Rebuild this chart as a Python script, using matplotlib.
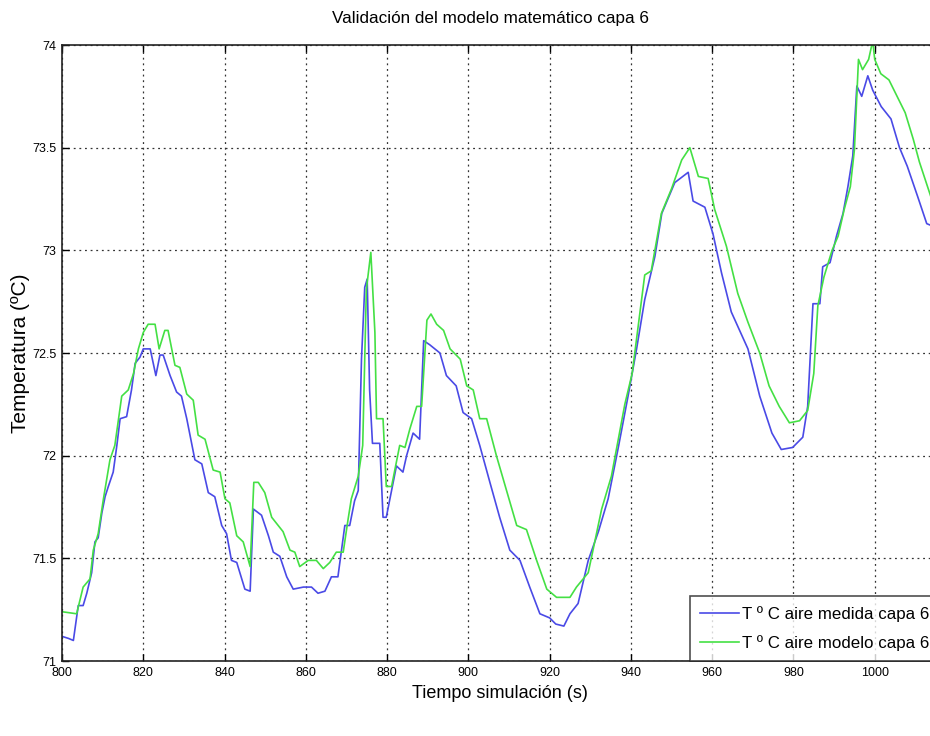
import matplotlib
matplotlib.use("Agg")
import matplotlib.pyplot as plt
from matplotlib import font_manager

# ---------------- data ----------------
t_medida = [800, 801.6, 802.8, 804.0, 805.2, 806.1, 807.3, 808.1, 808.9, 809.8, 810.6, 811.4,
            812.6, 813.5, 814.3, 815.9, 817.1, 818.0, 819.2, 820.0, 821.7, 823.1, 824.1, 824.9,
            826.6, 828.2, 829.4, 830.7, 832.7, 834.4, 836.0, 837.6, 839.3, 840.5, 841.7, 843.0,
            845.0, 846.3, 847.1, 849.1, 850.8, 852.0, 853.6, 855.3, 856.9, 859.4, 861.4, 863.0,
            864.7, 866.3, 867.9, 869.6, 870.8, 872.0, 872.9, 873.7, 874.5, 875.1, 875.7, 876.4,
            878.2, 879.0, 879.8, 881.1, 882.3, 883.9, 884.8, 886.4, 888.0, 889.0, 890.5, 893.0,
            894.6, 897.0, 898.7, 900.8, 902.8, 905.3, 907.7, 910.2, 912.7, 915.1, 917.6, 920.0,
            921.5, 923.5, 925.0, 927.0, 929.5, 932.0, 934.4, 936.9, 939.3, 941.4, 943.4, 945.9,
            947.6, 950.8, 954.1, 955.3, 958.2, 960.2, 962.3, 964.7, 968.8, 971.7, 974.7, 977.0,
            979.8, 982.3, 983.5, 984.8, 986.5, 987.2, 989.0, 990.6, 992.2, 993.4, 994.6, 995.6,
            996.8, 998.3, 999.5, 1001.6, 1004.0, 1006.1, 1008.0, 1010.6, 1012.8, 1014.0]
T_medida = [71.12, 71.11, 71.10, 71.27, 71.27, 71.33, 71.43, 71.58, 71.60, 71.72, 71.80, 71.85,
            71.92, 72.05, 72.18, 72.19, 72.32, 72.45, 72.48, 72.52, 72.52, 72.39, 72.49, 72.49,
            72.39, 72.31, 72.29, 72.18, 71.98, 71.96, 71.82, 71.80, 71.66, 71.62, 71.49, 71.48,
            71.35, 71.34, 71.74, 71.71, 71.61, 71.53, 71.51, 71.41, 71.35, 71.36, 71.36, 71.33,
            71.34, 71.41, 71.41, 71.66, 71.66, 71.78, 71.83, 72.47, 72.82, 72.86, 72.32, 72.06,
            72.06, 71.70, 71.70, 71.83, 71.95, 71.92, 72.00, 72.11, 72.08, 72.56, 72.54, 72.50,
            72.39, 72.34, 72.21, 72.18, 72.05, 71.87, 71.70, 71.54, 71.49, 71.36, 71.23, 71.21,
            71.18, 71.17, 71.23, 71.28, 71.49, 71.63, 71.79, 72.04, 72.29, 72.52, 72.76, 72.97,
            73.18, 73.33, 73.38, 73.24, 73.21, 73.08, 72.89, 72.70, 72.52, 72.29, 72.11, 72.03,
            72.04, 72.09, 72.24, 72.74, 72.74, 72.92, 72.94, 73.07, 73.18, 73.31, 73.46, 73.80,
            73.75, 73.85, 73.78, 73.70, 73.64, 73.50, 73.41, 73.26, 73.13, 73.12]

t_modelo = [800, 803.6, 805.2, 806.9, 807.7, 808.9, 810.2, 811.8, 813.0, 814.7, 816.3, 817.6,
            818.8, 820.0, 821.2, 822.9, 823.9, 825.3, 826.1, 827.8, 829.0, 830.7, 832.3, 833.5,
            835.2, 837.2, 838.9, 840.1, 841.3, 843.0, 844.6, 846.3, 847.2, 848.3, 849.9, 851.6,
            853.2, 854.4, 856.1, 857.3, 858.5, 860.6, 862.6, 864.3, 865.9, 867.5, 869.2, 870.4,
            871.2, 872.9, 874.0, 874.9, 876.0, 877.0, 877.4, 879.0, 879.8, 881.1, 883.1, 884.4,
            885.6, 887.3, 888.5, 889.8, 890.8, 892.2, 893.9, 895.5, 898.0, 899.6, 901.2, 902.8,
            904.5, 906.9, 909.4, 911.9, 914.3, 916.8, 919.3, 921.7, 925.0, 926.6, 929.5, 932.8,
            935.2, 938.5, 940.3, 943.4, 945.0, 947.5, 950.0, 952.5, 954.5, 956.6, 959.0, 960.6,
            963.5, 966.3, 968.8, 971.7, 974.0, 976.5, 979.0, 981.5, 983.5, 985.0, 986.0, 987.5,
            989.5, 991.0, 992.5, 994.0, 995.0, 996.0, 997.0, 998.5, 999.5, 1000.0, 1001.5, 1003.5,
            1005.5, 1007.5, 1009.5, 1011.0, 1013.0, 1014.0]
T_modelo = [71.24, 71.23, 71.36, 71.40, 71.54, 71.62, 71.79, 71.98, 72.05, 72.29, 72.32, 72.40,
            72.52, 72.60, 72.64, 72.64, 72.52, 72.61, 72.61, 72.44, 72.43, 72.30, 72.27, 72.10,
            72.08, 71.93, 71.92, 71.79, 71.77, 71.61, 71.58, 71.46, 71.87, 71.87, 71.82, 71.70,
            71.66, 71.63, 71.54, 71.53, 71.46, 71.49, 71.49, 71.45, 71.48, 71.53, 71.53, 71.69,
            71.79, 71.90, 72.05, 72.81, 72.99, 72.60, 72.18, 72.18, 71.85, 71.85, 72.05, 72.04,
            72.13, 72.24, 72.24, 72.66, 72.69, 72.64, 72.61, 72.52, 72.47, 72.34, 72.32, 72.18,
            72.18, 72.00, 71.83, 71.66, 71.64, 71.49, 71.35, 71.31, 71.31, 71.36, 71.43, 71.74,
            71.90, 72.25, 72.40, 72.88, 72.90, 73.18, 73.30, 73.44, 73.50, 73.36, 73.35, 73.20,
            73.02, 72.79, 72.65, 72.50, 72.34, 72.24, 72.16, 72.17, 72.22, 72.40, 72.73, 72.87,
            73.00, 73.07, 73.20, 73.31, 73.49, 73.93, 73.88, 73.93, 74.02, 73.93, 73.86, 73.83,
            73.75, 73.67, 73.54, 73.43, 73.31, 73.25]

xticks = [800, 820, 840, 860, 880, 900, 920, 940, 960, 980, 1000]
yticks = [71, 71.5, 72, 72.5, 73, 73.5, 74]
ytick_labels = ["71", "71.5", "72", "72.5", "73", "73.5", "74"]
label_medida = "T º C aire medida capa 6"
label_modelo = "T º C aire modelo capa 6"
title = "Validación del modelo matemático capa 6"
xlabel = "Tiempo simulación (s)"
ylabel = "Temperatura (ºC)"

# ---------------- fonts ----------------
regular = dict(family=["Liberation Sans", "DejaVu Sans"])

# ---------------- figure ----------------
W, H = 930, 736
fig = plt.figure(figsize=(W / 100, H / 100), dpi=100, facecolor="white")
left_px, right_px, top_px, bot_px = 62, 956, 45, 661
ax = fig.add_axes([left_px / W, 1 - bot_px / H, (right_px - left_px) / W, (bot_px - top_px) / H])

ax.plot(t_medida, T_medida, color="#4a4ae6", lw=1.2, label=label_medida)
ax.plot(t_modelo, T_modelo, color="#44e044", lw=1.2, label=label_modelo)

ax.set_xlim(800, 1020)
ax.set_ylim(71, 74)
ax.set_xticks(xticks)
ax.set_yticks(yticks)
ax.set_yticklabels(ytick_labels)
ax.grid(True, color="#333333", linestyle=(0, (1.5, 3)), linewidth=0.9)
ax.tick_params(direction="in", length=5, width=1, top=True, right=True, pad=4)
for lab in ax.get_xticklabels() + ax.get_yticklabels():
    lab.set_fontproperties(font_manager.FontProperties(size=9, **regular))
for s in ax.spines.values():
    s.set_linewidth(1.2)
    s.set_color("#222222")

fig.text(490 / W, 1 - 18 / H, title, ha="center", va="center", fontsize=12.3, **regular)
fig.text(500 / W, 1 - 693 / H, xlabel, ha="center", va="center", fontsize=13, **regular)
fig.text(20 / W, 1 - 353 / H, ylabel, ha="center", va="center", rotation=90, fontsize=15, **regular)

leg = fig.legend(loc="lower left", bbox_to_anchor=(690 / W, 1 - 661 / H),
                 bbox_transform=fig.transFigure, frameon=True, fancybox=False,
                 prop=font_manager.FontProperties(size=12.2, **regular),
                 handlelength=2.3, handletextpad=0.15, borderpad=0.6, labelspacing=0.75,
                 borderaxespad=0)
leg.get_frame().set_edgecolor("#222222")
leg.get_frame().set_linewidth(1.2)

fig.savefig("out.png", dpi=100, facecolor="white")
